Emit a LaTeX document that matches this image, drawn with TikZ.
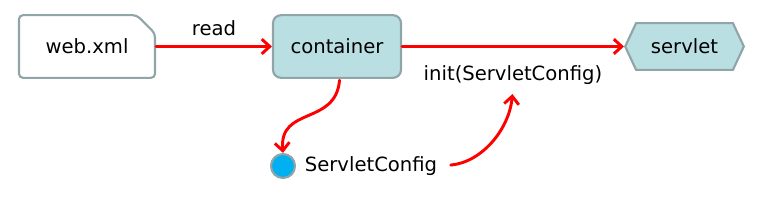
\documentclass[tikz,border=0pt]{standalone}
\usepackage{fontspec}
\setmainfont{DejaVu Sans}
\usetikzlibrary{arrows.meta,shapes.misc,shapes.symbols}
\definecolor{FlowRed}{HTML}{FF0000}
\definecolor{FlowGray}{HTML}{8FA5A7}
\definecolor{FlowTeal}{HTML}{B9DFE3}
\definecolor{FlowBlue}{HTML}{00B0F0}
\tikzset{
  flowarrow/.style={-{Straight Barb[length=6pt,width=11pt]}, line width=2.2pt,
    draw=FlowRed, line cap=round},
  shapebox/.style={draw=FlowGray, line width=1.6pt, inner sep=0pt},
  flowlabel/.style={inner sep=2pt}
}
\begin{document}
\begin{tikzpicture}[x=0.75pt, y=-0.75pt, font=\fontsize{14.7}{17}\selectfont]
\useasboundingbox (0,0) rectangle (763,202);
\node[shapebox, chamfered rectangle, chamfered rectangle corners=north east,
  chamfered rectangle xsep=8pt, chamfered rectangle ysep=8pt, rounded corners=3pt,
  minimum width=102pt, minimum height=47pt] at (87,46.5) (webxml) {web.xml};
\node[shapebox, fill=FlowTeal, rounded corners=6pt,
  minimum width=96pt, minimum height=47pt] at (337,46.5) (container) {container};
\node[shapebox, fill=FlowTeal, signal, signal to=west and east, signal pointer angle=130,
  minimum width=89pt, minimum height=35pt] at (684.5,46.5) (servlet) {servlet};
\node[shapebox, circle, fill=FlowBlue, minimum size=18pt] at (283,166) (config) {};
\node[flowlabel, anchor=west] at (302,166) (configlabel) {ServletConfig};
\node[flowlabel] at (513,75) (initlabel) {init(ServletConfig)};

\draw[flowarrow] (webxml) -- node[flowlabel, above=5pt]{read} (container);
\draw[flowarrow] (container) -- (servlet);
\draw[flowarrow, shorten <=1pt] ([xshift=2pt]container.south) to[out=-95, in=95, looseness=1.3] (config.north);
\draw[flowarrow, shorten <=8pt, shorten >=5pt] (configlabel.east) to[out=5, in=-95] (initlabel.south);
\end{tikzpicture}
\end{document}
